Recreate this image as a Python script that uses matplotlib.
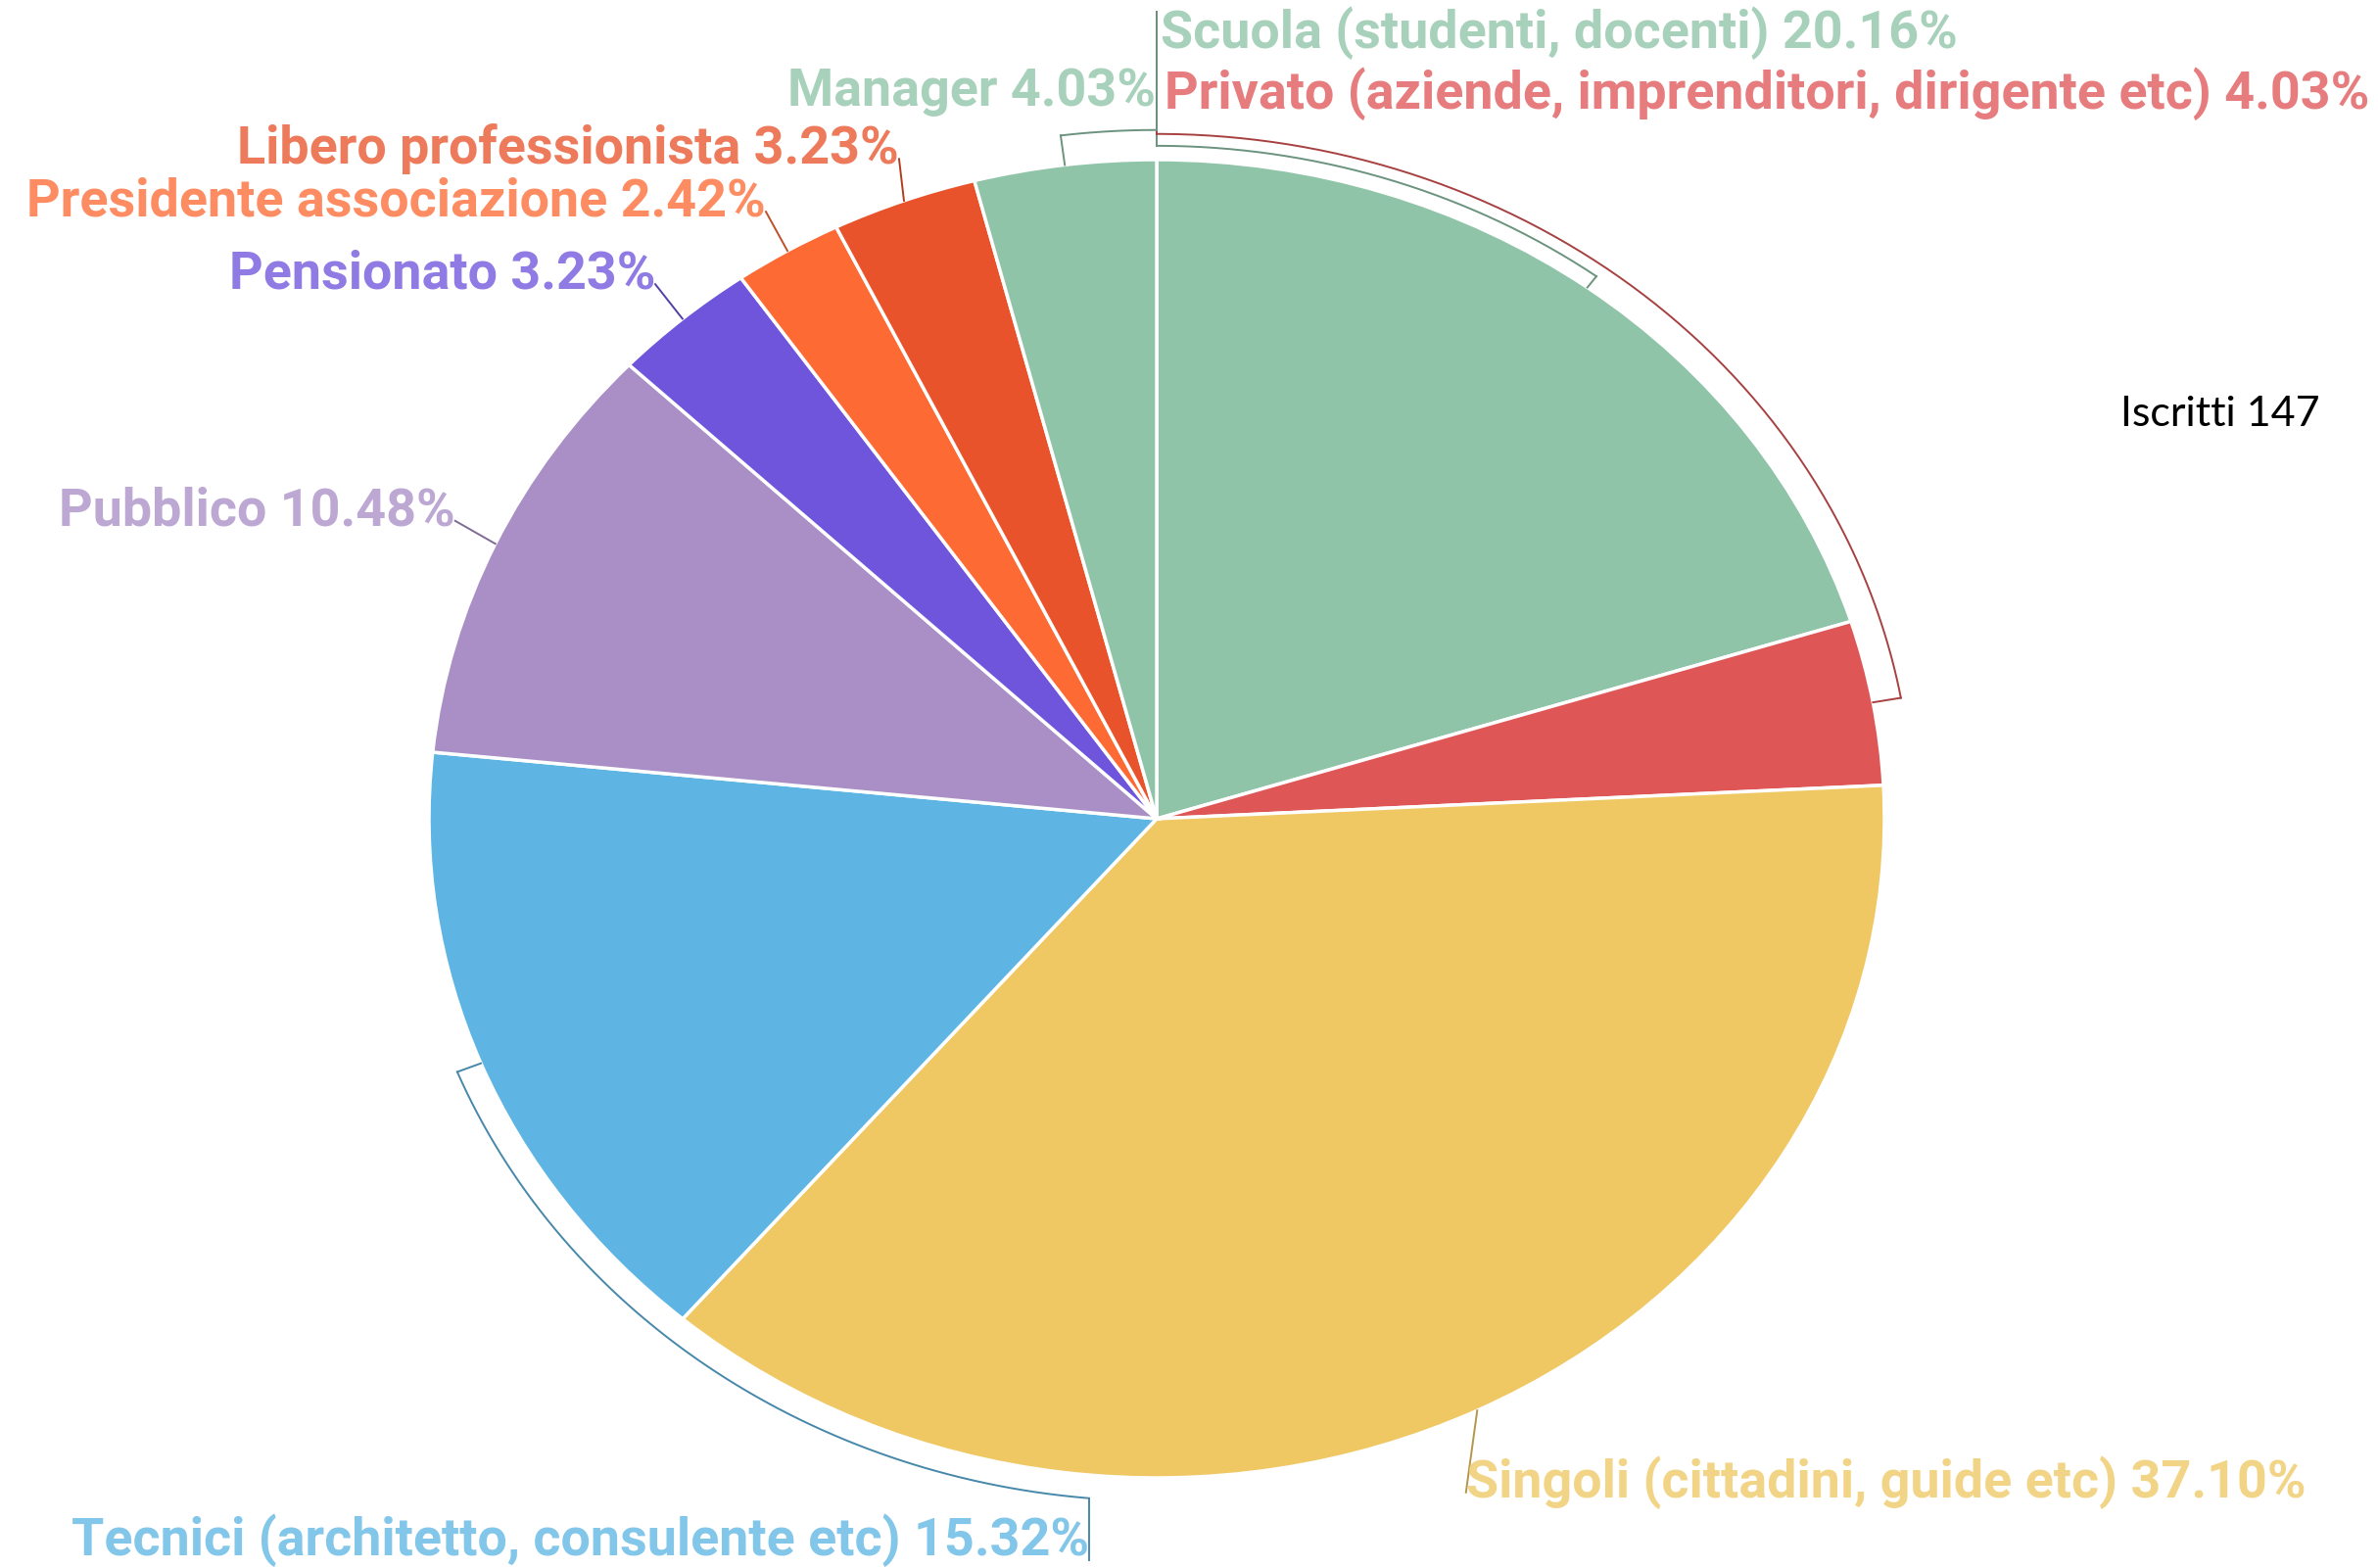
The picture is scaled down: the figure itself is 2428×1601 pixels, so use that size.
"""
Pie chart of subscriber categories (Iscritti 147)
"""

import numpy as np
import matplotlib
matplotlib.use('Agg')
import matplotlib.pyplot as plt
import matplotlib.colors as mcolors

categories = ['Scuola (studenti, docenti)',
              'Privato (aziende, imprenditori, dirigente etc)',
              'Singoli (cittadini, guide etc)',
              'Tecnici (architetto, consulente etc)',
              'Pubblico',
              'Pensionato',
              'Presidente associazione',
              'Libero professionista',
              'Manager']
percents = [20.16, 4.03, 37.10, 15.32, 10.48, 3.23, 2.42, 3.23, 4.03]
colors = ['#8fc4a8', '#df5657', '#efc864', '#5eb5e3', '#a98fc6',
          '#6f55dc', '#fd6a34', '#e8532b', '#8fc4a8']
total_label = 'Iscritti 147'

# label anchor (x, y, ha) in pie units, and how the leader is drawn
label_pos = [(0.005, 1.192, 'left'), (0.011, 1.100, 'left'),
             (0.425, -1.007, 'left'), (-0.093, -1.095, 'right'),
             (-0.964, 0.467, 'right'), (-0.689, 0.826, 'right'),
             (-0.537, 0.936, 'right'), (-0.354, 1.016, 'right'),
             (-0.001, 1.104, 'right')]
# bracket radius for labels routed around the pie, None = straight leader
bracket_r = [1.021, 1.039, None, 1.035, None, None, None, None, 1.045]


def darker(c, f=0.75):
    r, g, b = mcolors.to_rgb(c)
    return (r * f, g * f, b * f)


def lighter(c, f=0.12):
    r, g, b = mcolors.to_rgb(c)
    return (r + (1 - r) * f, g + (1 - g) * f, b + (1 - b) * f)


fig = plt.figure(figsize=(24.28, 16.01), dpi=100)
ax = fig.add_axes([0, 0, 1, 1])

wedges, _ = ax.pie(percents, colors=colors, startangle=90,
                   counterclock=False, radius=1,
                   wedgeprops=dict(edgecolor='white', linewidth=2.5))
ax.set_aspect('auto')
# pie center at (1181, 836) px, radii 743 x 673 px
ax.set_xlim(-1181 / 743, (2428 - 1181) / 743)
ax.set_ylim(-(1601 - 836) / 673, 836 / 673)
ax.axis('off')

for i, w in enumerate(wedges):
    mid_deg = ((w.theta1 + w.theta2) / 2) % 360
    mid = np.radians(mid_deg)
    lx, ly, ha = label_pos[i]
    lc = darker(colors[i])
    text = '%s %.2f%%' % (categories[i], percents[i])
    ax.text(lx, ly, text, ha=ha, va='center', fontsize=38.8,
            fontfamily='Roboto', fontweight='bold',
            color=lighter(colors[i]), alpha=0.88)
    rb = bracket_r[i]
    if rb is None:
        ax.plot([np.cos(mid), lx], [np.sin(mid), ly - 0.015],
                color=lc, lw=1.4)
        continue
    # tick from slice edge out to the bracket arc
    ax.plot([np.cos(mid), rb * np.cos(mid)], [np.sin(mid), rb * np.sin(mid)],
            color=lc, lw=1.4)
    if ly > 0:
        end = np.pi / 2
        t = np.linspace(mid, end, 200)
        ax.plot(rb * np.cos(t), rb * np.sin(t), color=lc, lw=1.4)
        ax.plot([0, 0], [rb, 1.225], color=lc, lw=1.4)
    else:
        end = 2 * np.pi - np.arccos(lx / rb)
        t = np.linspace(mid, end, 200)
        ax.plot(rb * np.cos(t), rb * np.sin(t), color=lc, lw=1.4)
        ax.plot([lx, lx], [rb * np.sin(end), ly - 0.03], color=lc, lw=1.4)

fig.text(2165 / 2428, 1 - 423 / 1601, total_label, ha='left', va='center',
         fontsize=31, fontfamily='Lato', color='black')

fig.savefig('out.png', dpi=100, facecolor='white')
